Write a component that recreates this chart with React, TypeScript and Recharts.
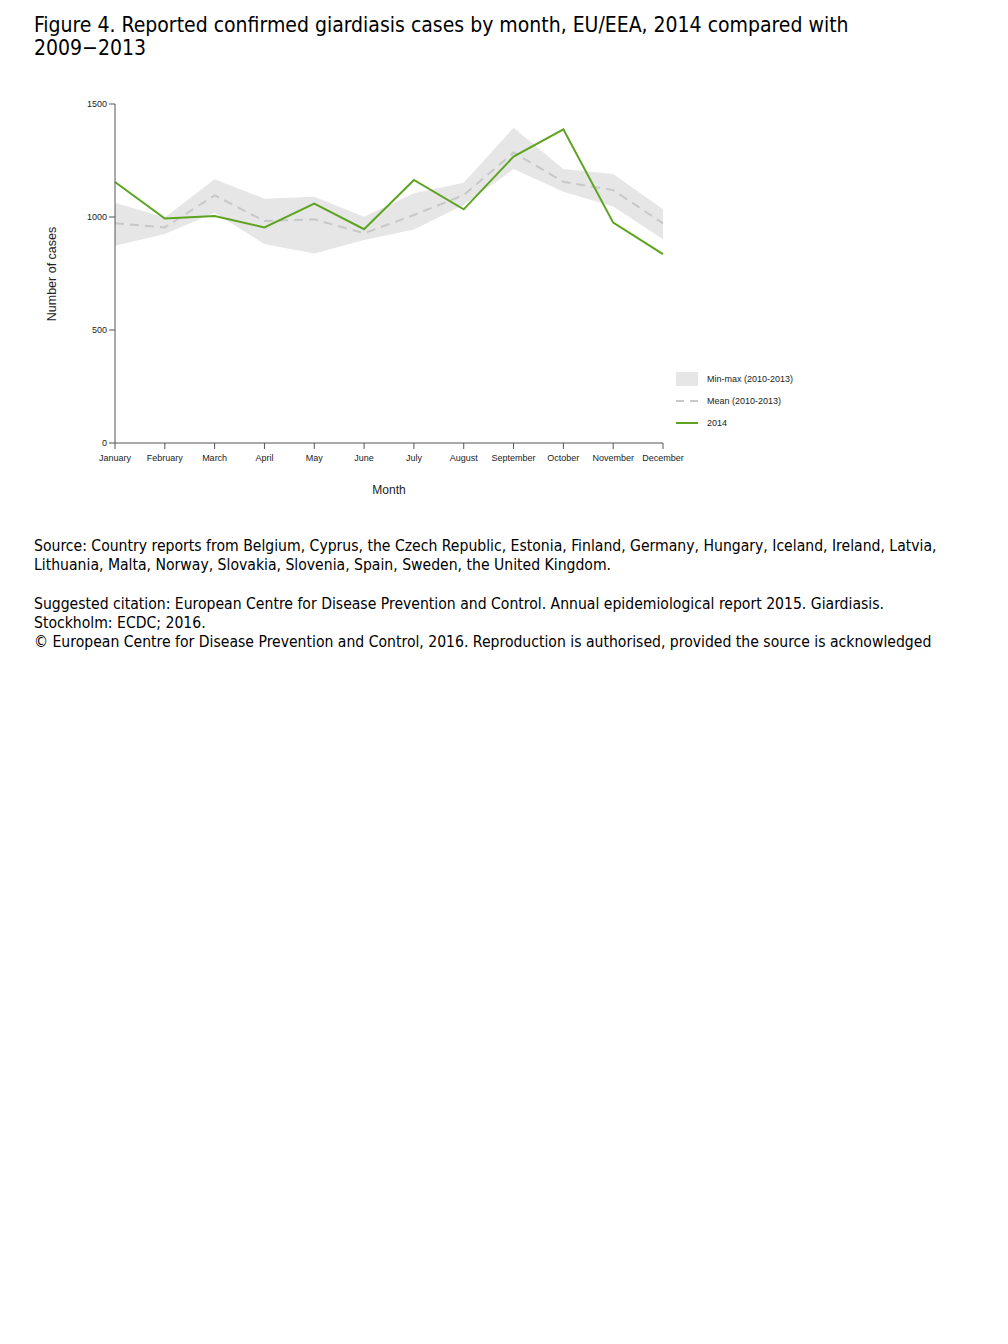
import { ComposedChart, Area, Line, XAxis, YAxis, Label } from 'recharts';

const months = [
  'January', 'February', 'March', 'April', 'May', 'June',
  'July', 'August', 'September', 'October', 'November', 'December'
];
const cases2014 = [1155, 993, 1004, 954, 1059, 946, 1164, 1034, 1267, 1388, 975, 836];
const mean0913 = [972, 954, 1096, 982, 990, 928, 1009, 1097, 1285, 1156, 1119, 972];
const min0913 = [873, 925, 1019, 880, 839, 898, 945, 1053, 1212, 1112, 1046, 901];
const max0913 = [1063, 998, 1167, 1081, 1090, 1001, 1105, 1152, 1395, 1212, 1190, 1034];
const yTicks = [0, 500, 1000, 1500];

const data = months.map((m, i) => ({
  month: m,
  range: [min0913[i], max0913[i]],
  mean: mean0913[i],
  y2014: cases2014[i]
}));

const GREEN = '#5ca31f';
const BAND = '#e6e6e6';
const MEAN = '#c8c8c8';
const AXIS = '#555';
const sans = '"Liberation Sans", Arial, sans-serif';
const textFont = '"DejaVu Sans Condensed", "DejaVu Sans", sans-serif';

const LegendBox = () => {
  const rows = [
    { label: 'Min-max (2010-2013)', kind: 'band' },
    { label: 'Mean (2010-2013)', kind: 'mean' },
    { label: '2014', kind: 'line' }
  ];
  return (
    <div style={{ fontFamily: sans, fontSize: 9, color: '#222' }}>
      {rows.map((r) => (
        <div key={r.label} style={{ display: 'flex', alignItems: 'center', height: 22 }}>
          <svg width={22} height={16} style={{ marginRight: 9 }}>
            {r.kind === 'band' && <rect x={0} y={1} width={22} height={14} fill={BAND} />}
            {r.kind === 'mean' && (
              <line x1={0} y1={8} x2={22} y2={8} stroke={MEAN} strokeWidth={2} strokeDasharray="8 6" />
            )}
            {r.kind === 'line' && <line x1={0} y1={8} x2={22} y2={8} stroke={GREEN} strokeWidth={2} />}
          </svg>
          <span>{r.label}</span>
        </div>
      ))}
    </div>
  );
};

export default function App() {
  return (
    <div style={{ position: 'absolute', left: 0, top: 0, width: 1008, height: 1344, background: '#fff' }}>
      <div
        style={{
          position: 'absolute', left: 34, top: 14, fontFamily: textFont, fontSize: 21,
          lineHeight: '23px', color: '#000', whiteSpace: 'nowrap'
        }}
      >
        <div>Figure 4. Reported confirmed giardiasis cases by month, EU/EEA, 2014 compared with</div>
        <div>2009−2013</div>
      </div>

      <div style={{ position: 'absolute', left: 0, top: 0 }}>
        <ComposedChart
          width={820}
          height={520}
          data={data}
          margin={{ top: 104, right: 157, left: 70, bottom: 22 }}
        >
          <XAxis
            dataKey="month"
            scale="point"
            height={55}
            stroke={AXIS}
            tickSize={6}
            tick={{ fontFamily: sans, fontSize: 9, fill: '#222', dy: 4 }}
            interval={0}
          >
            <Label value="Month" position="insideBottom" offset={4} style={{ fontFamily: sans, fontSize: 12, fill: '#222' }} />
          </XAxis>
          <YAxis
            type="number"
            domain={[0, 1500]}
            ticks={yTicks}
            width={45}
            stroke={AXIS}
            tickSize={6}
            tick={{ fontFamily: sans, fontSize: 9, fill: '#222' }}
          />
          <Area
            dataKey="range"
            stroke="none"
            fill={BAND}
            fillOpacity={1}
            isAnimationActive={false}
            dot={false}
            activeDot={false}
          />
          <Line
            dataKey="mean"
            stroke={MEAN}
            strokeWidth={2}
            strokeDasharray="9 6"
            dot={false}
            isAnimationActive={false}
          />
          <Line
            dataKey="y2014"
            stroke={GREEN}
            strokeWidth={2}
            dot={false}
            isAnimationActive={false}
          />
        </ComposedChart>
      </div>

      <div style={{ position: 'absolute', left: 676, top: 368 }}>
        <LegendBox />
      </div>

      <div
        style={{
          position: 'absolute', left: 52, top: 274, transform: 'translate(-50%, -50%) rotate(-90deg)',
          fontFamily: sans, fontSize: 12.5, color: '#222', whiteSpace: 'nowrap'
        }}
      >
        Number of cases
      </div>

      <div
        style={{
          position: 'absolute', left: 34, top: 537, fontFamily: textFont, fontSize: 15.6,
          lineHeight: '19px', color: '#000', whiteSpace: 'nowrap'
        }}
      >
        <div>Source: Country reports from Belgium, Cyprus, the Czech Republic, Estonia, Finland, Germany, Hungary, Iceland, Ireland, Latvia,</div>
        <div>Lithuania, Malta, Norway, Slovakia, Slovenia, Spain, Sweden, the United Kingdom.</div>
        <div style={{ height: 20 }} />
        <div>Suggested citation: European Centre for Disease Prevention and Control. Annual epidemiological report 2015. Giardiasis.</div>
        <div>Stockholm: ECDC; 2016.</div>
        <div>© European Centre for Disease Prevention and Control, 2016. Reproduction is authorised, provided the source is acknowledged</div>
      </div>
    </div>
  );
}
